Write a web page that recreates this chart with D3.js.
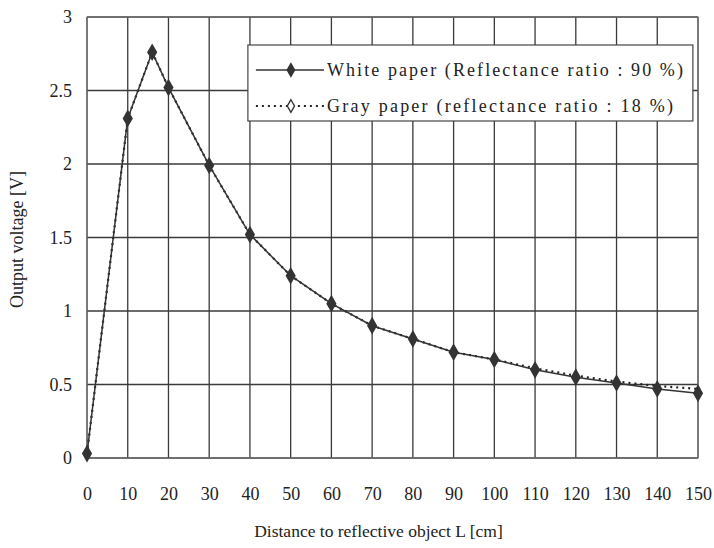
<!DOCTYPE html>
<html>
<head>
<meta charset="utf-8">
<script src="https://cdn.jsdelivr.net/npm/d3@7"></script>
<style>
  body { margin: 0; background: #fff; }
  text { font-family: "Liberation Serif", "DejaVu Serif", serif; fill: #222; }
</style>
</head>
<body>
<div id="chart"></div>
<script>
// distances (cm) and output voltages (V)
var distances = [0, 10, 16, 20, 30, 40, 50, 60, 70, 80, 90, 100, 110, 120, 130, 140, 150];
var whitePaper = [0.03, 2.31, 2.76, 2.52, 1.99, 1.52, 1.24, 1.05, 0.90, 0.81, 0.72, 0.67, 0.60, 0.55, 0.51, 0.47, 0.44];
var grayPaper  = [0.03, 2.31, 2.76, 2.52, 1.99, 1.52, 1.24, 1.05, 0.90, 0.81, 0.72, 0.67, 0.61, 0.56, 0.52, 0.49, 0.47];
var xTicks = [0, 10, 20, 30, 40, 50, 60, 70, 80, 90, 100, 110, 120, 130, 140, 150];
var yTicks = [0, 0.5, 1, 1.5, 2, 2.5, 3];
var seriesNames = ["White paper (Reflectance ratio : 90 %)", "Gray paper (reflectance ratio : 18 %)"];

var margin = {top: 17, right: 16, bottom: 90, left: 87},
    width = 714 - margin.left - margin.right,
    height = 548 - margin.top - margin.bottom;

var svg = d3.select("#chart").append("svg")
    .attr("width", 714)
    .attr("height", 548)
    .append("g")
    .attr("transform", "translate(" + margin.left + "," + margin.top + ")");

var x = d3.scaleLinear().domain([0, 150]).range([0, width]);
var y = d3.scaleLinear().domain([0, 3]).range([height, 0]);

// grid
svg.append("g").selectAll("line").data(xTicks).enter().append("line")
    .attr("x1", d => x(d)).attr("x2", d => x(d))
    .attr("y1", 0).attr("y2", height)
    .attr("stroke", "#3a3a3a").attr("stroke-width", 1.3);
svg.append("g").selectAll("line").data(yTicks).enter().append("line")
    .attr("x1", 0).attr("x2", width)
    .attr("y1", d => y(d)).attr("y2", d => y(d))
    .attr("stroke", "#3a3a3a").attr("stroke-width", 1.3);
svg.append("rect").attr("width", width).attr("height", height)
    .attr("fill", "none").attr("stroke", "#777").attr("stroke-width", 1);

// axes labels
var xAxis = svg.append("g").attr("transform", "translate(0," + height + ")")
    .call(d3.axisBottom(x).tickValues(xTicks).tickSize(0).tickPadding(29));
var yAxis = svg.append("g")
    .call(d3.axisLeft(y).tickValues(yTicks).tickSize(0).tickPadding(15).tickFormat(d3.format("")));
[xAxis, yAxis].forEach(function(a) {
    a.select(".domain").remove();
    a.selectAll("text").style("font-size", "18px").style("font-family", "'Liberation Serif', serif").attr("fill", "#222");
});

svg.append("text")
    .attr("x", x(75) - 14).attr("y", height + 79)
    .attr("text-anchor", "middle").style("font-size", "17.5px")
    .text("Distance to reflective object L [cm]");
svg.append("text")
    .attr("transform", "translate(-64," + (y(1.5) + 2) + ") rotate(-90)")
    .attr("text-anchor", "middle").style("font-size", "18px")
    .text("Output voltage [V]");

var line = d3.line().x(d => x(d[0])).y(d => y(d[1]));
var whiteData = distances.map((d, i) => [d, whitePaper[i]]);
var grayData = distances.map((d, i) => [d, grayPaper[i]]);
var diamond = d3.symbol().type(d3.symbolDiamond);

svg.append("path").datum(grayData).attr("d", line)
    .attr("fill", "none").attr("stroke", "#222").attr("stroke-width", 2.2)
    .attr("stroke-dasharray", "2,4");
svg.append("path").datum(whiteData).attr("d", line)
    .attr("fill", "none").attr("stroke", "#333").attr("stroke-width", 1.5);
svg.append("g").selectAll("path").data(grayData).enter().append("path")
    .attr("d", diamond.size(22))
    .attr("transform", d => "translate(" + x(d[0]) + "," + y(d[1]) + ")")
    .attr("fill", "#333");
svg.append("g").selectAll("path").data(whiteData).enter().append("path")
    .attr("d", diamond.size(90))
    .attr("transform", d => "translate(" + x(d[0]) + "," + y(d[1]) + ")")
    .attr("fill", "#333");

// legend
var legend = svg.append("g").attr("transform", "translate(" + (x(39.5)) + "," + 28 + ")");
legend.append("rect").attr("width", 445).attr("height", 76)
    .attr("fill", "#fff").attr("stroke", "#444").attr("stroke-width", 1.2);
legend.append("line").attr("x1", 8).attr("x2", 76).attr("y1", 25).attr("y2", 25)
    .attr("stroke", "#333").attr("stroke-width", 1.5);
legend.append("path").attr("d", diamond.size(70)).attr("transform", "translate(43,25)").attr("fill", "#333");
legend.append("line").attr("x1", 8).attr("x2", 76).attr("y1", 61).attr("y2", 61)
    .attr("stroke", "#222").attr("stroke-width", 2.2).attr("stroke-dasharray", "2,4");
legend.append("path").attr("d", diamond.size(45)).attr("transform", "translate(43,61)")
    .attr("fill", "#fff").attr("stroke", "#333").attr("stroke-width", 1.4);
legend.selectAll("text.lbl").data(seriesNames).enter().append("text")
    .attr("class", "lbl")
    .attr("x", 79).attr("y", (d, i) => 31 + i * 36)
    .style("font-size", "18px")
    .attr("textLength", (d, i) => i === 0 ? 356 : 346)
    .text(d => d);
</script>
</body>
</html>
